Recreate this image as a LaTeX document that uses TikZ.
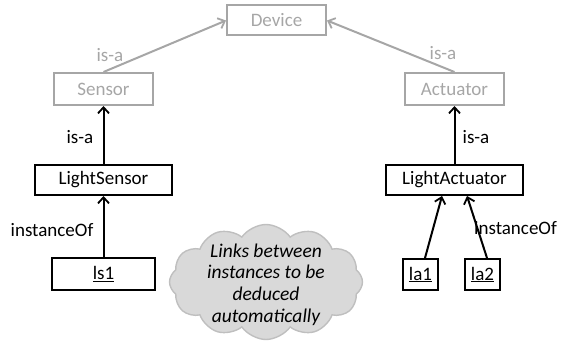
\documentclass[tikz,border=0pt]{standalone}
\usepackage{fontspec}
\setmainfont{Carlito}
\usetikzlibrary{arrows.meta,shapes.symbols}
\definecolor{lgray}{HTML}{A6A6A6}
\definecolor{cfill}{HTML}{D9D9D9}
\definecolor{cline}{HTML}{BFBFBF}
\begin{document}
\begin{tikzpicture}[x=1pt,y=-1pt,
  font=\fontsize{19}{22}\selectfont,
  box/.style={draw, line width=2pt, inner sep=0pt, anchor=center},
  gbox/.style={box, draw=lgray, text=lgray},
  arr/.style={-{Straight Barb[length=6pt,width=11pt,line width=1.8pt]}, line width=2pt},
  garr/.style={arr, draw=lgray},
  lbl/.style={inner sep=0pt},
  glbl/.style={lbl, text=lgray}]
\useasboundingbox (0,0) rectangle (567,353);
% class boxes
\node[gbox, minimum width=99pt, minimum height=30pt] (device) at (276.5,20.5) {Device};
\node[gbox, minimum width=99pt, minimum height=32pt] (sensor) at (103.5,89) {Sensor};
\node[gbox, minimum width=99pt, minimum height=32pt] (actuator) at (454.5,89) {Actuator};
\node[box, minimum width=137pt, minimum height=30pt] (lsensor) at (103.5,180) {LightSensor};
\node[box, minimum width=137pt, minimum height=30pt] (lactuator) at (454.5,180) {LightActuator};
% instances
\node[box, minimum width=103pt, minimum height=32pt] (ls1) at (103.5,274) {\underline{ls1}};
\node[box, minimum width=35pt, minimum height=31pt] (la1) at (420.5,274.5) {\underline{la1}};
\node[box, minimum width=35pt, minimum height=31pt] (la2) at (482.5,274.5) {\underline{la2}};
% cloud
\node[cloud, cloud puffs=12, cloud puff arc=110, aspect=1.7, draw=cline, fill=cfill,
  line width=1.4pt, minimum width=193pt, minimum height=115pt, inner sep=0pt] (cloud) at (266,282) {};
\node[align=center, inner sep=0pt, font=\fontsize{19.5}{21.7}\selectfont\itshape] (cloudtext) at (266,284.5)
  {Links between\\instances to be\\deduced\\automatically};
% connectors
\draw[garr] (sensor.north) -- (device.west);
\draw[garr] (actuator.north) -- (device.east);
\draw[arr] (lsensor.north) -- (sensor.south);
\draw[arr] (lactuator.north) -- (actuator.south);
\draw[arr] (ls1.north) -- (lsensor.south);
\draw[arr] ([xshift=4.5pt]la1.north) -- ([xshift=-12.5pt]lactuator.south);
\draw[arr] ([xshift=4.5pt]la2.north) -- ([xshift=12.5pt]lactuator.south);
% labels
\node[glbl] (l1) at (110,55) {is-a};
\node[glbl] (l2) at (443,53) {is-a};
\node[lbl] (l3) at (80,137) {is-a};
\node[lbl] (l4) at (476,137) {is-a};
\node[lbl] (l5) at (52,230) {instanceOf};
\node[lbl, anchor=west] (l6) at (474,228) {instanceOf};
\end{tikzpicture}
\end{document}
